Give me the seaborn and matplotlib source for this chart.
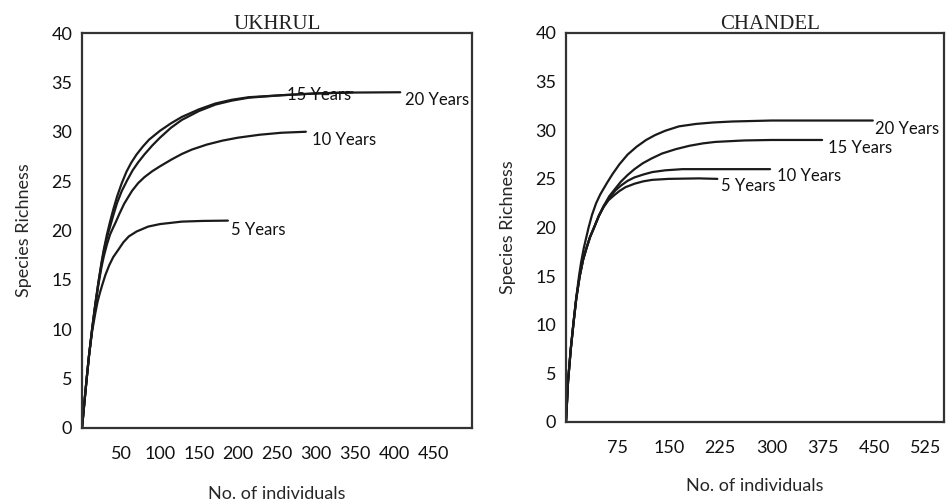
import matplotlib
matplotlib.use("Agg")
import matplotlib.pyplot as plt
import seaborn as sns
import pandas as pd

# ---------------- data ----------------
ukhrul_x_20 = [0, 3, 6, 9, 13, 17, 21, 25, 28, 32, 36, 40, 45, 51, 57, 63, 70, 78, 86, 100,
               114, 128, 150, 171, 192, 214, 256, 300, 350, 408]
ukhrul_y_20 = [0, 2.55, 5, 7.35, 10.05, 12.5, 14.75, 16.75, 18.1, 19.6, 20.9, 22.1, 23.45, 24.8,
               25.95, 26.85, 27.7, 28.5, 29.2, 30.1, 30.85, 31.5, 32.27, 32.86, 33.24, 33.5,
               33.7, 33.88, 33.97, 34]
ukhrul_x_15 = [0, 3, 6, 9, 13, 17, 21, 25, 28, 32, 36, 40, 45, 51, 58, 65, 72, 80, 90, 100,
               114, 128, 150, 171, 192, 214, 256, 300, 347]
ukhrul_y_15 = [0, 2.55, 5, 7.35, 10.05, 12.5, 14.7, 16.6, 17.9, 19.3, 20.4, 21.5, 22.8, 24.0,
               25.1, 26.1, 26.9, 27.7, 28.6, 29.4, 30.4, 31.2, 32.1, 32.75, 33.15, 33.45,
               33.7, 33.88, 34]
ukhrul_x_10 = [0, 3, 6, 9, 13, 17, 21, 25, 28, 32, 36, 40, 43, 48, 54, 64, 72, 80, 90, 100,
               115, 128, 141, 160, 180, 200, 228, 256, 287]
ukhrul_y_10 = [0, 2.55, 5, 7.35, 10, 12.4, 14.5, 16.3, 17.4, 18.6, 19.6, 20.3, 20.8, 21.7,
               22.7, 24.0, 24.8, 25.4, 26.0, 26.5, 27.2, 27.75, 28.2, 28.7, 29.1, 29.4, 29.7,
               29.9, 30]
ukhrul_x_5 = [0, 3, 6, 9, 13, 17, 20, 23, 26, 30, 35, 40, 47, 53, 60, 70, 85, 100, 128, 155, 187]
ukhrul_y_5 = [0, 2.5, 5, 7.3, 9.8, 11.6, 12.8, 13.7, 14.5, 15.5, 16.5, 17.3, 18.1, 18.8, 19.4,
              19.9, 20.4, 20.65, 20.9, 20.97, 21]

chandel_x_20 = [0, 3, 7, 11, 15, 19, 22, 26, 30, 33, 38, 44, 50, 55, 60, 68, 78, 90, 103, 117,
                130, 145, 165, 190, 215, 243, 300, 375, 448]
chandel_y_20 = [0, 4.2, 7.6, 10.3, 12.8, 15, 16.4, 17.9, 19.1, 20, 21.3, 22.5, 23.4, 24.0, 24.6,
                25.5, 26.5, 27.5, 28.3, 29, 29.5, 29.95, 30.4, 30.65, 30.8, 30.9, 31, 31, 31]
chandel_x_15 = [0, 3, 7, 11, 15, 20, 25, 30, 35, 41, 48, 55, 63, 72, 80, 90, 100, 112, 125, 140,
                160, 180, 200, 218, 260, 300, 374]
chandel_y_15 = [0, 4.2, 7.5, 10.2, 12.7, 15, 16.7, 17.9, 19.0, 20, 21.2, 22.2, 23.2, 24.0, 24.7,
                25.4, 26.0, 26.6, 27.1, 27.6, 28.05, 28.4, 28.65, 28.8, 28.95, 29, 29]
chandel_x_10 = [0, 3, 7, 11, 15, 20, 25, 30, 35, 41, 48, 55, 63, 72, 80, 90, 100, 113, 126, 145,
                170, 230, 298]
chandel_y_10 = [0, 4.2, 7.5, 10.2, 12.7, 15, 16.7, 17.9, 19.0, 20, 21.2, 22.2, 23.0, 23.8, 24.3,
                24.8, 25.15, 25.45, 25.7, 25.88, 26, 26, 26]
chandel_x_5 = [0, 3, 7, 11, 15, 20, 25, 30, 35, 41, 48, 55, 62, 70, 78, 87, 100, 113, 126, 150,
               194, 221]
chandel_y_5 = [0, 4.2, 7.5, 10.2, 12.7, 15, 16.7, 17.9, 19.0, 20, 21.2, 22.1, 22.8, 23.3, 23.75,
               24.15, 24.5, 24.75, 24.9, 25.0, 25.05, 25]

series_names = ["20 Years", "15 Years", "10 Years", "5 Years"]

ukhrul_xticks = [50, 100, 150, 200, 250, 300, 350, 400, 450]
chandel_xticks = [75, 150, 225, 300, 375, 450, 525]
yticks = [0, 5, 10, 15, 20, 25, 30, 35, 40]

# label anchor positions (data coords)
ukhrul_label_pos = {"20 Years": (414, 33.2), "15 Years": (263, 33.7),
                    "10 Years": (295, 29.2), "5 Years": (191, 20.1)}
chandel_label_pos = {"20 Years": (451, 30.1), "15 Years": (383, 28.2),
                     "10 Years": (308, 25.3), "5 Years": (227, 24.3)}

# ---------------- styling ----------------
sns.set_style("white")
sans = ["Lato", "DejaVu Sans"]
plt.rcParams["font.family"] = sans

LINE = "#1a1a1a"
SPINE = "#333333"

fig = plt.figure(figsize=(9.46, 5.04), dpi=100)
ax1 = fig.add_axes([82 / 946, 1 - 428 / 504, (472 - 82) / 946, (428 - 33) / 504])
ax2 = fig.add_axes([566 / 946, 1 - 422 / 504, (944 - 566) / 946, (422 - 33) / 504])


def build(xs_list, ys_list):
    rows = []
    for name, xs, ys in zip(series_names, xs_list, ys_list):
        for x, y in zip(xs, ys):
            rows.append({"series": name, "x": x, "y": y})
    return pd.DataFrame(rows)


df_u = build([ukhrul_x_20, ukhrul_x_15, ukhrul_x_10, ukhrul_x_5],
             [ukhrul_y_20, ukhrul_y_15, ukhrul_y_10, ukhrul_y_5])
df_c = build([chandel_x_20, chandel_x_15, chandel_x_10, chandel_x_5],
             [chandel_y_20, chandel_y_15, chandel_y_10, chandel_y_5])


def draw(ax, df, xlim, xticks, label_pos, title, title_x, xlabelpad):
    for name in series_names:
        sub = df[df["series"] == name]
        sns.lineplot(data=sub, x="x", y="y", ax=ax, color=LINE, linewidth=1.6,
                     estimator=None, sort=False, legend=False)
    for name, (lx, ly) in label_pos.items():
        ax.text(lx, ly, name, fontsize=12, va="center", ha="left", color="#111111")
    ax.set_xlim(*xlim)
    ax.set_ylim(0, 40)
    ax.set_xticks(xticks)
    ax.set_yticks(yticks)
    ax.tick_params(axis="both", direction="out", colors=SPINE, labelcolor="#111111",
                   labelsize=13, width=1.4)
    ax.tick_params(axis="x", length=7, pad=6)
    ax.tick_params(axis="y", length=5, pad=2)
    for s in ax.spines.values():
        s.set_color(SPINE)
        s.set_linewidth(1.6)
        s.set_visible(True)
    ax.set_xlabel("No. of individuals", fontsize=13, labelpad=xlabelpad)
    ax.set_ylabel("Species Richness", fontsize=13, labelpad=14)
    ax.set_title(title, fontsize=15, family=["Liberation Serif", "DejaVu Serif"],
                 pad=3, x=title_x, color="#222222")


draw(ax1, df_u, (0, 500), ukhrul_xticks, ukhrul_label_pos, "UKHRUL", 0.5, 17)
draw(ax2, df_c, (0, 552), chandel_xticks, chandel_label_pos, "CHANDEL", 0.54, 16)

fig.savefig("out.png", dpi=100, facecolor="white")
